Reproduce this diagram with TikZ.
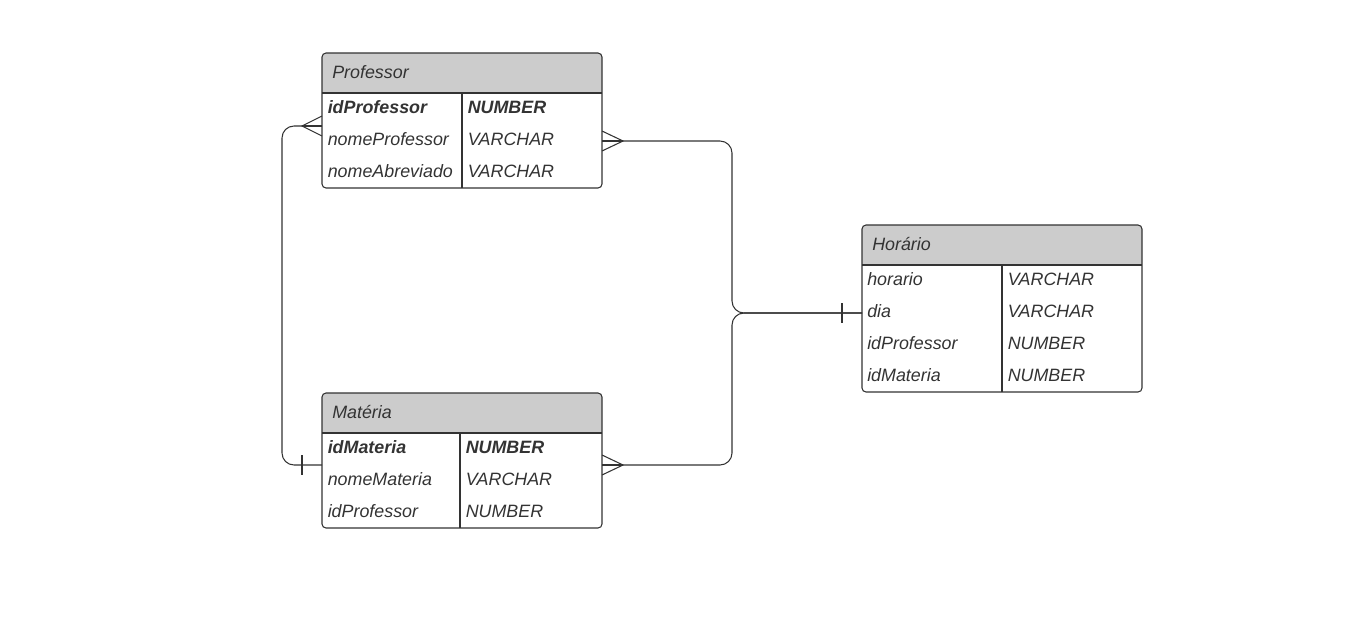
\documentclass[tikz,border=0pt]{standalone}
\usepackage{fontspec}
\setmainfont{Liberation Sans}
\usetikzlibrary{calc}
\definecolor{linegray}{RGB}{51,51,51}
\definecolor{headgray}{RGB}{204,204,204}
\definecolor{textgray}{RGB}{51,51,51}
\begin{document}
\begin{tikzpicture}[x=0.75pt,y=-0.75pt]

%
% Styles
%
\tikzstyle{headbox} = [rectangle,fill=headgray,rounded corners=3pt,minimum width=210pt,minimum height=30pt,inner sep=0pt,outer sep=0pt]
\tikzstyle{tablebox} = [rectangle,draw=linegray,line width=0.8pt,rounded corners=3pt,minimum width=210pt,inner sep=0pt,outer sep=0pt]
\tikzstyle{tableline} = [draw=linegray,line width=0.8pt]
\tikzstyle{field} = [anchor=west,inner sep=0pt,text=textgray,font=\fontsize{13.4}{16}\selectfont\itshape]
\tikzstyle{keyfield} = [field,font=\fontsize{13.4}{16}\selectfont\bfseries\itshape]
\tikzstyle{link} = [draw=linegray,line width=0.8pt]

\useasboundingbox (0,0) rectangle (1346,625);

%
% Professor
%
\node[headbox] (profhead) at (462,73) {};
\fill[headgray] (profhead.west) rectangle (profhead.south east);
\node[tablebox,minimum height=101.25pt] (prof) at (462,120.5) {};
\draw[tableline] (profhead.south west) -- (profhead.south east);
\draw[tableline] (462,93) -- (462,188);
\node[field] (profname) at (332,72) {Professor};
\node[keyfield] (p1a) at (327.5,107) {idProfessor};
\node[keyfield] (p1b) at (467.5,107) {NUMBER};
\node[field] (p2a) at (327.5,139) {nomeProfessor};
\node[field] (p2b) at (467.5,139) {VARCHAR};
\node[field] (p3a) at (327.5,171) {nomeAbreviado};
\node[field] (p3b) at (467.5,171) {VARCHAR};

%
% Materia
%
\node[headbox] (mathead) at (462,413) {};
\fill[headgray] (mathead.west) rectangle (mathead.south east);
\node[tablebox,minimum height=101.25pt] (mat) at (462,460.5) {};
\draw[tableline] (mathead.south west) -- (mathead.south east);
\draw[tableline] (460,433) -- (460,528);
\node[field] (matname) at (332,412) {Matéria};
\node[keyfield] (m1a) at (327.5,447) {idMateria};
\node[keyfield] (m1b) at (465.5,447) {NUMBER};
\node[field] (m2a) at (327.5,479) {nomeMateria};
\node[field] (m2b) at (465.5,479) {VARCHAR};
\node[field] (m3a) at (327.5,511) {idProfessor};
\node[field] (m3b) at (465.5,511) {NUMBER};

%
% Horario
%
\node[headbox] (horhead) at (1002,245) {};
\fill[headgray] (horhead.west) rectangle (horhead.south east);
\node[tablebox,minimum height=125.25pt] (hor) at (1002,308.5) {};
\draw[tableline] (horhead.south west) -- (horhead.south east);
\draw[tableline] (1002,265) -- (1002,392);
\node[field] (horname) at (872,244) {Horário};
\node[field] (h1a) at (867,279) {horario};
\node[field] (h1b) at (1007.5,279) {VARCHAR};
\node[field] (h2a) at (867,311) {dia};
\node[field] (h2b) at (1007.5,311) {VARCHAR};
\node[field] (h3a) at (867,343) {idProfessor};
\node[field] (h3b) at (1007.5,343) {NUMBER};
\node[field] (h4a) at (867,375) {idMateria};
\node[field] (h4b) at (1007.5,375) {NUMBER};

%
% Connectors
%
\coordinate (profR) at (prof.east |- 0,141);
\coordinate (profRtip) at (623,141);
\coordinate (matR) at (mat.east |- 0,465);
\coordinate (matRtip) at (623,465);
\coordinate (horL) at (hor.west |- 0,313);
\coordinate (profL) at (prof.west |- 0,126);
\coordinate (profLtip) at (302,126);
\coordinate (matL) at (mat.west |- 0,465);

% Professor -- Horario
\draw[link] ($(profR)+(0,-10)$) -- (profRtip) -- ($(profR)+(0,10)$);
\draw[link] (profR) -- (profRtip);
\draw[link,rounded corners=9pt] (profRtip) -- (732,141) -- (732,313) -- (horL);

% Materia -- Horario
\draw[link] ($(matR)+(0,-10)$) -- (matRtip) -- ($(matR)+(0,10)$);
\draw[link] (matR) -- (matRtip);
\draw[link,rounded corners=9pt] (matRtip) -- (732,465) -- (732,313) -- (horL);
\draw[link] ($(horL)+(-20,-10)$) -- ($(horL)+(-20,10)$);

% Professor -- Materia
\draw[link] ($(profL)+(0,-10)$) -- (profLtip) -- ($(profL)+(0,10)$);
\draw[link] (profL) -- (profLtip);
\draw[link,rounded corners=9pt] (profLtip) -- (282,126) -- (282,465) -- (matL);
\draw[link] ($(matL)+(-20,-10)$) -- ($(matL)+(-20,10)$);

\end{tikzpicture}
\end{document}
